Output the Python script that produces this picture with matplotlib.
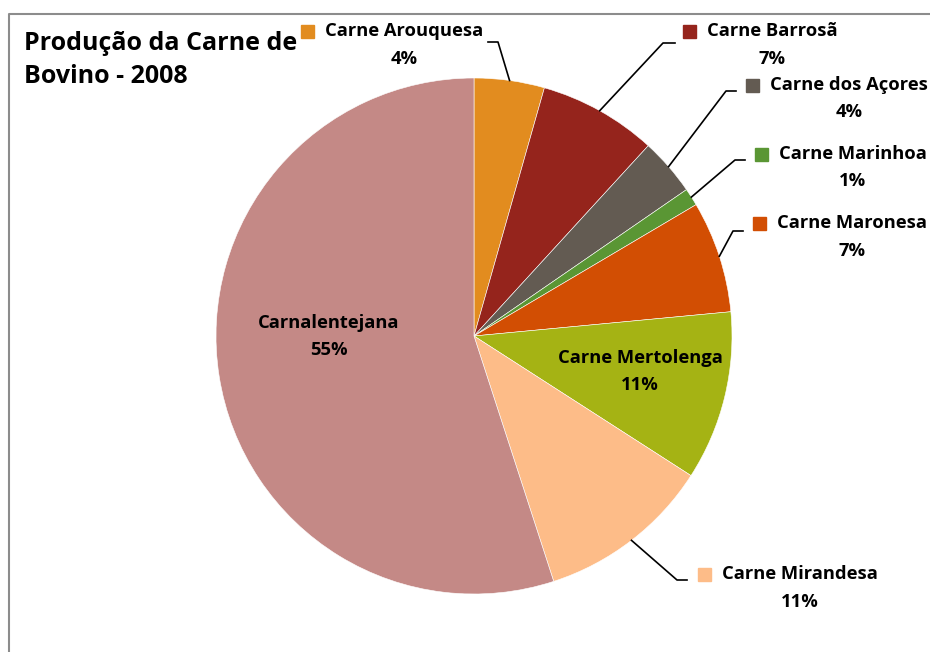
import matplotlib
matplotlib.use("Agg")
import matplotlib.pyplot as plt
import numpy as np

plt.rcParams['font.family'] = ['Open Sans', 'DejaVu Sans']

racas = ["Carne Arouquesa", "Carne Barrosã", "Carne dos Açores", "Carne Marinhoa",
         "Carne Maronesa", "Carne Mertolenga", "Carne Mirandesa", "Carnalentejana"]
valores = [4.4, 7.4, 3.6, 1.1, 7.0, 10.6, 10.9, 55.0]
cores = ["#E28C1F", "#95241C", "#635B52", "#5A9634",
         "#D24E03", "#A5B314", "#FDBC88", "#C48986"]

H = 652
def py(y):
    # y em pixels (de cima) -> coordenada do eixo
    return H - y

fig = plt.figure(figsize=(9.3, 6.52), dpi=100)
ax = fig.add_axes([0, 0, 1, 1])

cx, cy, r = 474, py(336), 258
wedges, _ = ax.pie(valores, colors=cores, startangle=90, counterclock=False,
                   center=(cx, cy), radius=r,
                   wedgeprops=dict(edgecolor="white", linewidth=0.4))
ax.set_xlim(0, 930)
ax.set_ylim(0, H)
ax.set_aspect("equal")
ax.axis("off")

# caixa do grafico
ax.plot([9, 9, 935], [py(660), py(14), py(14)], color="#8c8c8c", lw=1.5,
        clip_on=False)

ax.text(24, py(60), "Produção da Carne de\nBovino - 2008", fontsize=18,
        fontweight="bold", ha="left", va="center", linespacing=1.4)

fs = 13.2
# rotulos externos: (centro do texto x, y do nome, y da %, cotovelo x, y, fim x)
externos = {
    0: (404, 31, 59, 498, 42, 488),
    1: (772, 31, 59, 663, 43, 675),
    2: (849, 85, 112, 726, 91, 736),
    3: (853, 154, 181, 735, 160, 745),
    4: (852, 223, 251, 733, 231, 743),
    6: (800, 574, 602, 677, 580, 687),
}
for i, (tx, ty, tpy, ex, ey, fx) in externos.items():
    w = wedges[i]
    th = np.deg2rad((w.theta1 + w.theta2) / 2)
    sx, sy = cx + r * np.cos(th), cy + r * np.sin(th)
    ax.plot([sx, ex, fx], [sy, py(ey), py(ey)], color="black", lw=1.2)
    t = ax.text(tx, py(ty), racas[i], fontsize=fs, fontweight="bold",
                ha="center", va="center")
    ax.text(tx, py(tpy), f"{valores[i]:.0f}%", fontsize=fs, fontweight="bold",
            ha="center", va="center")
    # quadrado da legenda a esquerda do nome
    fig.canvas.draw()
    bb = t.get_window_extent()
    ax.add_patch(plt.Rectangle((bb.x0 - 24, py(ty) - 6.5), 13, 13,
                               color=cores[i], clip_on=False))

internos = {5: (640, 358, 385), 7: (329, 323, 350)}
for i, (tx, ty, tpy) in internos.items():
    ax.text(tx, py(ty), racas[i], fontsize=fs, fontweight="bold",
            ha="center", va="center")
    ax.text(tx, py(tpy), f"{valores[i]:.0f}%", fontsize=fs, fontweight="bold",
            ha="center", va="center")

fig.savefig("out.png", dpi=100)
